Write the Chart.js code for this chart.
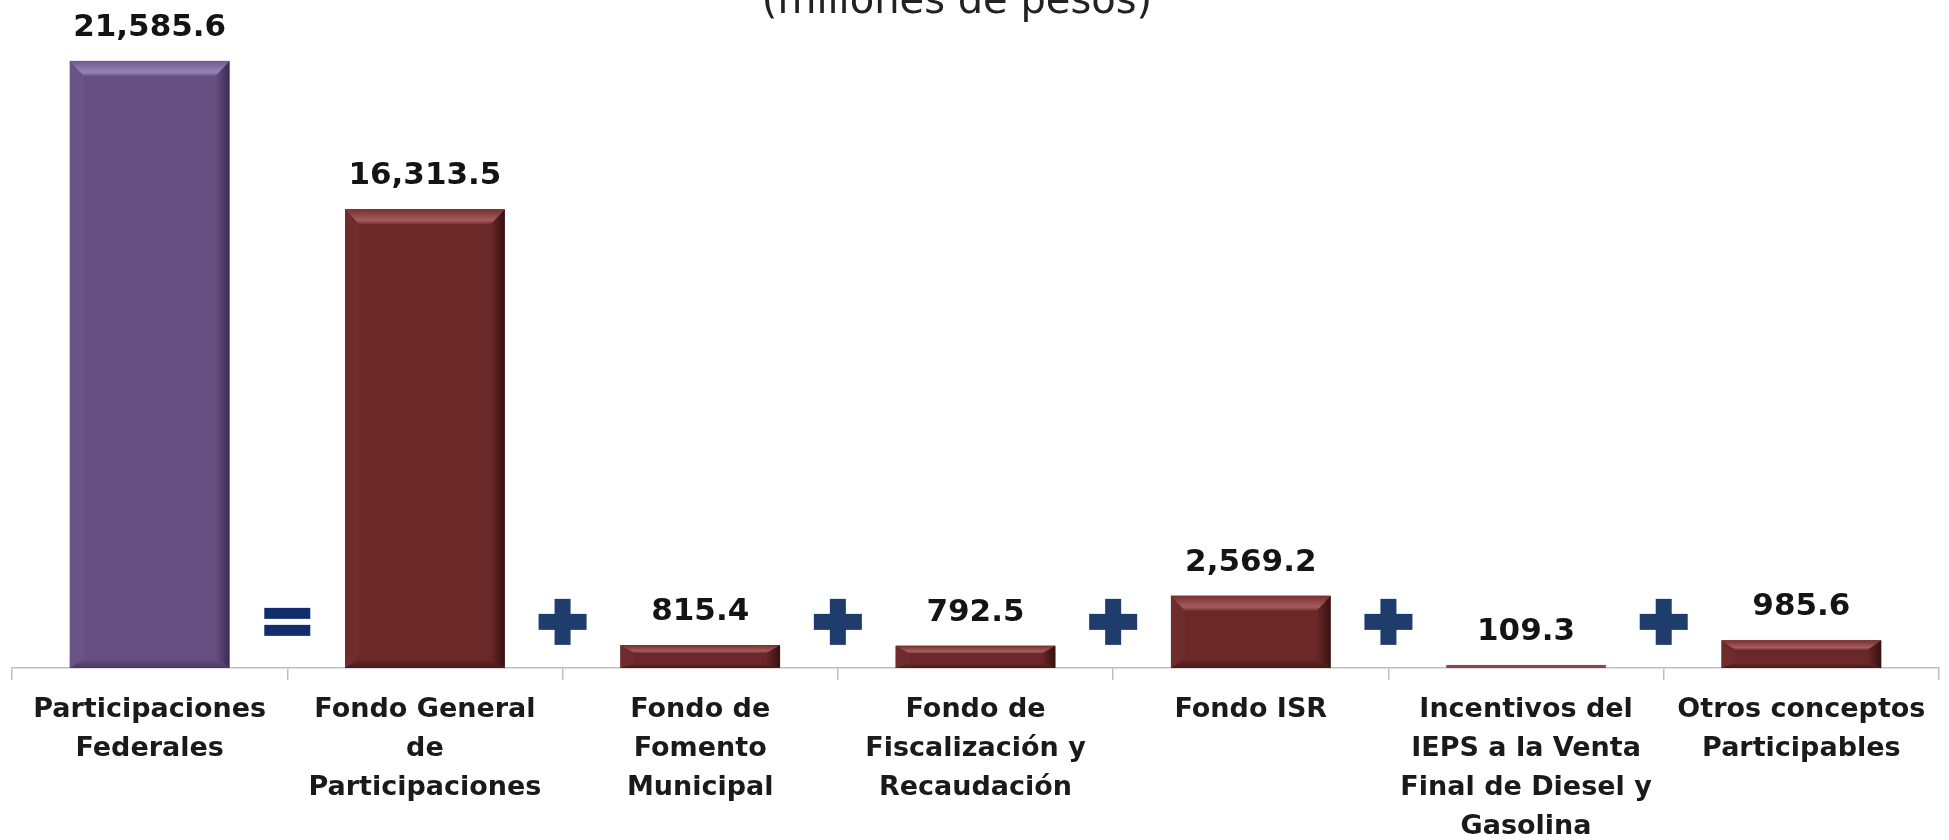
<!DOCTYPE html>
<html>
<head>
<meta charset="utf-8">
<script src="https://cdn.jsdelivr.net/npm/chart.js@4.4.1/dist/chart.umd.min.js"></script>
<style>
  html, body { margin: 0; padding: 0; background: #ffffff; overflow: hidden; }
  #wrap { position: relative; width: 1949px; height: 840px; }
</style>
</head>
<body>
<div id="wrap"><canvas id="c"></canvas></div>
<script>
// ---- data ----
const categories = [
  ["Participaciones", "Federales"],
  ["Fondo General", "de", "Participaciones"],
  ["Fondo de", "Fomento", "Municipal"],
  ["Fondo de", "Fiscalización y", "Recaudación"],
  ["Fondo ISR"],
  ["Incentivos del", "IEPS a la Venta", "Final de Diesel y", "Gasolina"],
  ["Otros conceptos", "Participables"]
];
const values = [21585.6, 16313.5, 815.4, 792.5, 2569.2, 109.3, 985.6];
const valueLabels = ["21,585.6", "16,313.5", "815.4", "792.5", "2,569.2", "109.3", "985.6"];
const operators = ["=", "+", "+", "+", "+", "+"];
const subtitle = "(millones de pesos)";

// ---- styles ----
const palette = {
  purple: { face: "#664F81", top1: "#6E588C", top2: "#9A84BC", left: "#6A5486", right: "#3B2C52", bottom: "#4A3962" },
  maroon: { face: "#6A2828", top1: "#763030", top2: "#A65C5C", left: "#6F2C2C", right: "#381010", bottom: "#4A1818" }
};
const barStyle = values.map((v, i) => i === 0 ? palette.purple : palette.maroon);

const bevelPlugin = {
  id: "bevel",
  afterDatasetsDraw(chart) {
    const ctx = chart.ctx;
    const meta = chart.getDatasetMeta(0);
    meta.data.forEach((bar, i) => {
      const st = barStyle[i];
      const w = bar.width;
      const L = bar.x - w / 2, R = bar.x + w / 2, T = bar.y, B = bar.base;
      const h = B - T;
      ctx.save();
      if (h < 14) {
        ctx.fillStyle = "#8C4848";
        ctx.fillRect(L, T, w, h);
        ctx.restore();
        return;
      }
      const bt = Math.min(15, h * 0.35), bb = Math.min(9, h * 0.2), bl = 14, br = 14;
      const iL = L + bl, iR = R - br, iT = T + bt, iB = B - bb;
      ctx.fillStyle = st.face;
      ctx.fillRect(L, T, w, h);
      ctx.beginPath();
      ctx.moveTo(L, T); ctx.lineTo(iL, iT); ctx.lineTo(iL, iB); ctx.lineTo(L, B); ctx.closePath();
      ctx.fillStyle = st.left; ctx.fill();
      let g = ctx.createLinearGradient(iR, 0, R, 0);
      g.addColorStop(0, st.face); g.addColorStop(1, st.right);
      ctx.beginPath();
      ctx.moveTo(R, T); ctx.lineTo(iR, iT); ctx.lineTo(iR, iB); ctx.lineTo(R, B); ctx.closePath();
      ctx.fillStyle = g; ctx.fill();
      g = ctx.createLinearGradient(0, iB, 0, B);
      g.addColorStop(0, st.face); g.addColorStop(1, st.bottom);
      ctx.beginPath();
      ctx.moveTo(L, B); ctx.lineTo(iL, iB); ctx.lineTo(iR, iB); ctx.lineTo(R, B); ctx.closePath();
      ctx.fillStyle = g; ctx.fill();
      g = ctx.createLinearGradient(0, T, 0, iT);
      g.addColorStop(0, st.top1); g.addColorStop(0.75, st.top2); g.addColorStop(1, st.top1);
      ctx.beginPath();
      ctx.moveTo(L, T); ctx.lineTo(R, T); ctx.lineTo(iR, iT); ctx.lineTo(iL, iT); ctx.closePath();
      ctx.fillStyle = g; ctx.fill();
      ctx.restore();
    });
  },
  afterDraw(chart) {
    const ctx = chart.ctx;
    const meta = chart.getDatasetMeta(0);
    const xs = chart.scales.x, ys = chart.scales.y;
    ctx.save();
    ctx.font = "bold 31px 'DejaVu Sans'";
    ctx.fillStyle = "#141414";
    ctx.textAlign = "center";
    ctx.textBaseline = "middle";
    meta.data.forEach((bar, i) => {
      ctx.fillText(valueLabels[i], bar.x, bar.y - 33);
    });
    const oy = ys.getPixelForValue(1640);
    operators.forEach((op, i) => {
      const cx = (xs.getPixelForValue(i) + xs.getPixelForValue(i + 1)) / 2;
      if (op === "=") {
        ctx.fillStyle = "#112D6E";
        ctx.fillRect(cx - 23, oy - 14, 46, 11);
        ctx.fillRect(cx - 23, oy + 3, 46, 11);
      } else {
        ctx.fillStyle = "#1E3C6C";
        ctx.fillRect(cx - 24, oy - 8, 48, 16);
        ctx.fillRect(cx - 8, oy - 23, 16, 46);
      }
    });
    ctx.font = "40px 'DejaVu Sans'";
    ctx.fillStyle = "#222222";
    ctx.textBaseline = "alphabetic";
    ctx.fillText(subtitle, 957, 13);
    ctx.restore();
  }
};

new Chart(document.getElementById("c"), {
  type: "bar",
  data: {
    labels: categories,
    datasets: [{
      data: values,
      backgroundColor: "rgba(0,0,0,0)",
      borderWidth: 0,
      barPercentage: 0.58,
      categoryPercentage: 1.0
    }]
  },
  options: {
    responsive: true,
    maintainAspectRatio: false,
    animation: false,
    layout: { padding: { left: 12, right: 10, top: 0, bottom: 0 } },
    plugins: { legend: { display: false }, tooltip: { enabled: false }, title: { display: false } },
    scales: {
      x: {
        offset: true,
        afterFit(scale) { scale.height = 172; },
        grid: { display: true, drawOnChartArea: false, drawTicks: true, tickLength: 12, color: "#BFBFBF", lineWidth: 1.5, offset: true },
        border: { display: true, color: "#BFBFBF", width: 1.5 },
        ticks: {
          autoSkip: false, maxRotation: 0, minRotation: 0, padding: 10,
          color: "#1A1A1A",
          font: { family: "'DejaVu Sans'", size: 27, weight: "bold", lineHeight: 1.45 }
        }
      },
      y: { display: false, min: 0, max: 23750 }
    }
  },
  plugins: [bevelPlugin]
});
</script>
</body>
</html>
